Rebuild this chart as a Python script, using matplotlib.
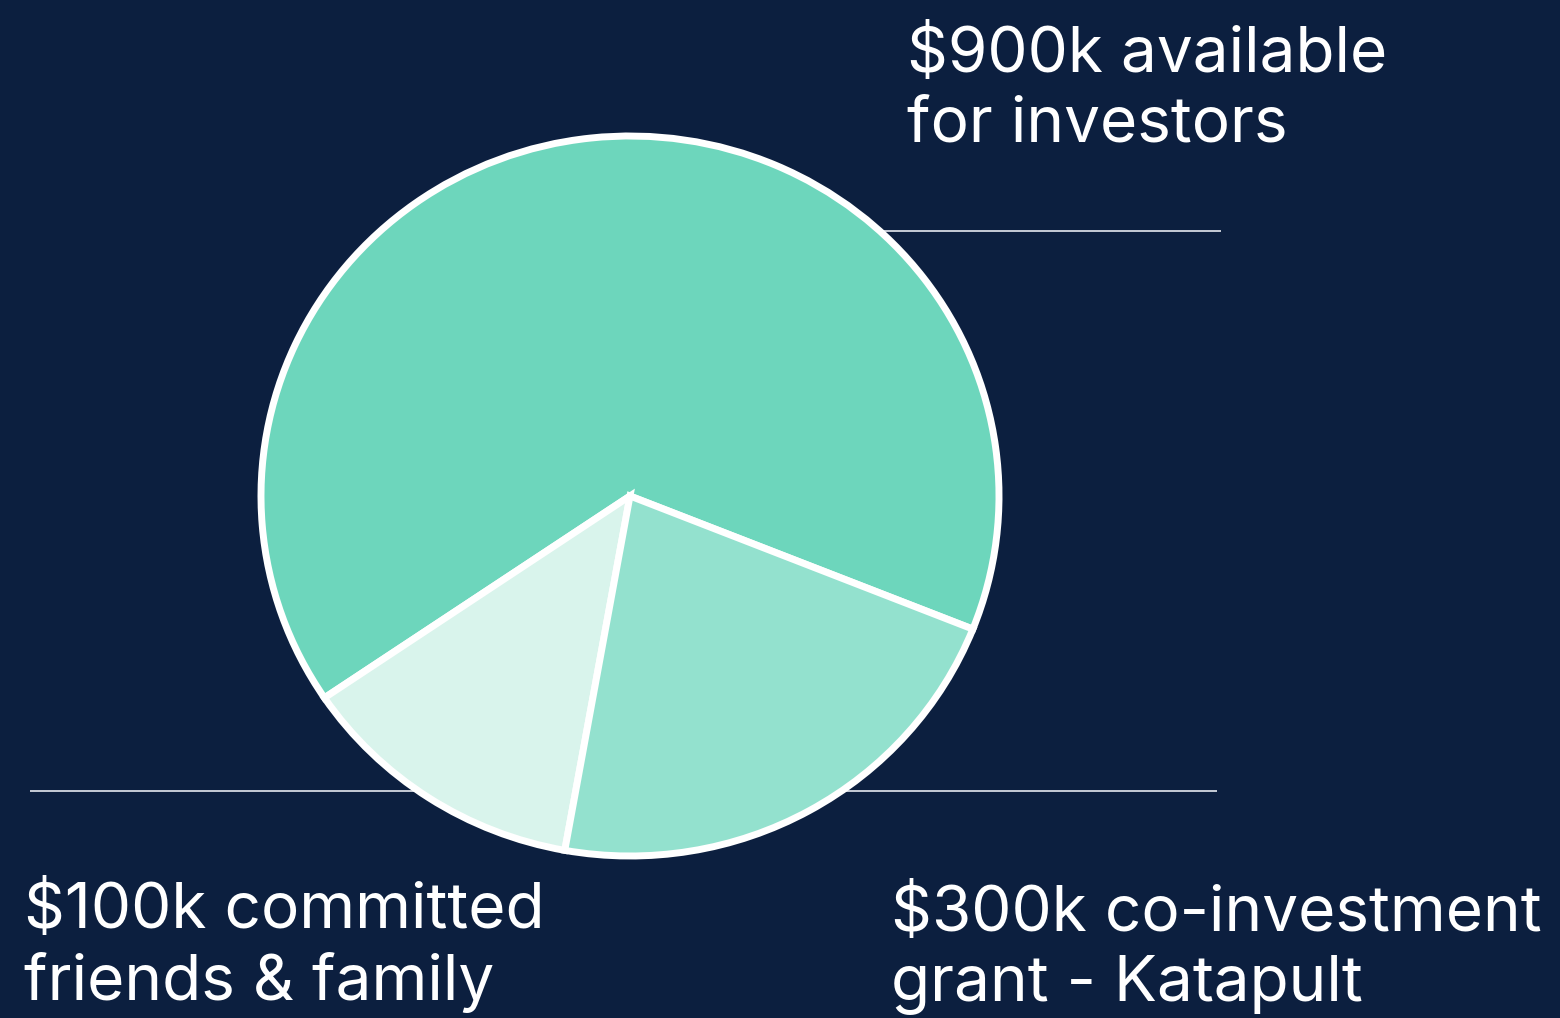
import matplotlib
matplotlib.use('Agg')
import matplotlib.pyplot as plt

# funding split, slice shares (it is not drawn to scale)
labels = ['$900k available\nfor investors',
          '$100k committed\nfriends & family',
          '$300k co-investment\ngrant - Katapult']
shares = [65.5, 12.7, 21.8]
colors = ['#6DD6BC', '#D9F4EC', '#93E1CE']

bg = '#0C1F3F'
W, H = 1560, 1018

plt.rcParams['font.family'] = ['Inter', 'DejaVu Sans']

fig = plt.figure(figsize=(W / 100, H / 100), dpi=100, facecolor=bg)

# background axes in pixel units for the leader lines and labels
base = fig.add_axes([0, 0, 1, 1], zorder=0)
base.set_xlim(0, W)
base.set_ylim(H, 0)
base.set_facecolor(bg)
base.axis('off')

base.plot([630, 1221], [231, 231], color='#D5DAE2', lw=1.3, solid_capstyle='butt')
base.plot([30, 1217], [791, 791], color='#D5DAE2', lw=1.3, solid_capstyle='butt')

# va='baseline' anchors the last line of a two-line label
txt = dict(color='white', fontsize=46, ha='left', va='baseline', linespacing=1.22)
base.text(907, 141, labels[0], **txt)
base.text(24, 1000, labels[1], **txt)
base.text(891, 1000, labels[2], **txt)

# pie axes, slightly squashed like the original
cx, cy, rx, ry = 630, 496, 369, 360
pie_ax = fig.add_axes([(cx - rx) / W, (H - cy - ry) / H, 2 * rx / W, 2 * ry / H], zorder=1)
pie_ax.patch.set_alpha(0)
pie_ax.pie(shares, colors=colors, startangle=-21.7, counterclock=True,
           radius=1, wedgeprops=dict(edgecolor='white', linewidth=5, joinstyle='miter'))
pie_ax.set_aspect('auto')
pie_ax.set_xlim(-1, 1)
pie_ax.set_ylim(-1, 1)
pie_ax.axis('off')

fig.savefig('out.png', dpi=100, facecolor=bg)
